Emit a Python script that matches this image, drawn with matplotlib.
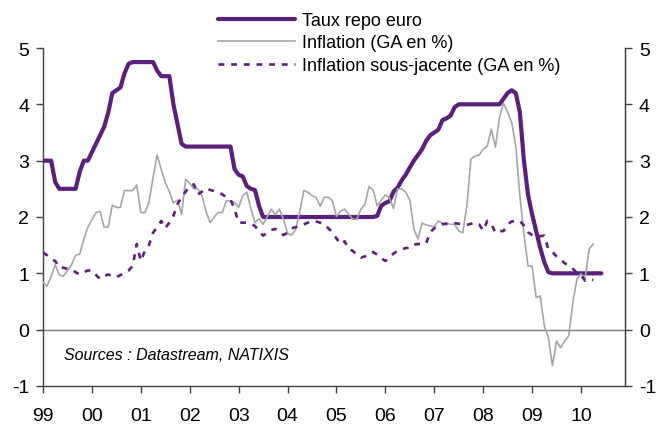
import matplotlib
matplotlib.use("Agg")
import matplotlib.pyplot as plt
import numpy as np

plt.rcParams['font.family'] = ['Liberation Sans', 'DejaVu Sans']

# Monthly data starting January 1999
repo = [3.0, 3.0, 3.0, 2.62, 2.5, 2.5, 2.5, 2.5, 2.5, 2.8, 3.0, 3.0,
        3.15, 3.3, 3.45, 3.6, 3.85, 4.2, 4.25, 4.3, 4.55, 4.72, 4.75, 4.75,
        4.75, 4.75, 4.75, 4.75, 4.6, 4.5, 4.5, 4.5, 4.0, 3.65, 3.3, 3.25,
        3.25, 3.25, 3.25, 3.25, 3.25, 3.25, 3.25, 3.25, 3.25, 3.25, 3.25, 2.85,
        2.75, 2.72, 2.55, 2.5, 2.48, 2.2, 2.0, 2.0, 2.0, 2.0, 2.0, 2.0,
        2.0, 2.0, 2.0, 2.0, 2.0, 2.0, 2.0, 2.0, 2.0, 2.0, 2.0, 2.0,
        2.0, 2.0, 2.0, 2.0, 2.0, 2.0, 2.0, 2.0, 2.0, 2.0, 2.02, 2.2,
        2.25, 2.28, 2.45, 2.52, 2.65, 2.75, 2.88, 3.0, 3.1, 3.2, 3.35, 3.45,
        3.5, 3.55, 3.72, 3.75, 3.8, 3.95, 4.0, 4.0, 4.0, 4.0, 4.0, 4.0,
        4.0, 4.0, 4.0, 4.0, 4.0, 4.1, 4.2, 4.25, 4.2, 3.86, 3.0, 2.4,
        2.05, 1.75, 1.45, 1.2, 1.02, 1.0, 1.0, 1.0, 1.0, 1.0, 1.0, 1.0,
        1.0, 1.0, 1.0, 1.0, 1.0, 1.0]

inflation = [0.84, 0.77, 0.95, 1.15, 0.97, 0.95, 1.05, 1.15, 1.32, 1.34, 1.6, 1.82,
             1.95, 2.08, 2.1, 1.82, 1.82, 2.21, 2.17, 2.17, 2.47, 2.47, 2.47, 2.57,
             2.08, 2.08, 2.26, 2.7, 3.1, 2.85, 2.61, 2.45, 2.25, 2.3, 2.05, 2.67,
             2.6, 2.5, 2.5, 2.38, 2.1, 1.9, 2.0, 2.08, 2.08, 2.29, 2.28, 2.26,
             2.17, 2.38, 2.44, 2.15, 1.9, 1.97, 1.87, 2.0, 2.14, 2.04, 2.14, 1.96,
             1.71, 1.68, 1.78, 2.1, 2.47, 2.44, 2.38, 2.35, 2.19, 2.35, 2.35, 2.29,
             2.01, 2.1, 2.14, 2.05, 1.96, 1.96, 2.14, 2.23, 2.54, 2.48, 2.2, 2.3,
             2.39, 2.34, 2.15, 2.5, 2.5, 2.44, 2.3, 1.79, 1.61, 1.89, 1.86, 1.84,
             1.83, 1.93, 1.89, 1.89, 1.87, 1.87, 1.75, 1.72, 2.2, 3.03, 3.08, 3.1,
             3.2, 3.26, 3.56, 3.24, 3.77, 4.02, 3.86, 3.68, 3.26, 2.38, 1.7, 1.13,
             1.13, 0.57, 0.6, 0.07, -0.14, -0.64, -0.2, -0.32, -0.2, -0.11, 0.48, 0.9,
             0.99, 0.9, 1.43, 1.52]

core = [1.37, 1.32, 1.25, 1.22, 1.1, 1.1, 1.08, 1.07, 1.02, 0.98, 1.02, 1.05,
        1.05, 0.97, 0.9, 0.95, 0.98, 0.95, 0.93, 0.97, 1.01, 1.05, 1.13, 1.52,
        1.22, 1.4, 1.5, 1.72, 1.82, 1.93, 1.8, 1.9, 2.02, 2.23, 2.35, 2.45,
        2.55, 2.58, 2.4, 2.45, 2.51, 2.48, 2.46, 2.44, 2.4, 2.35, 2.31, 2.14,
        1.9, 1.9, 1.9, 1.88, 1.84, 1.75, 1.67, 1.72, 1.77, 1.79, 1.72, 1.68,
        1.72, 1.8, 1.82, 1.85, 1.87, 1.9, 1.93, 1.92, 1.9, 1.87, 1.8, 1.73,
        1.62, 1.52, 1.57, 1.43, 1.4, 1.33, 1.28, 1.3, 1.33, 1.38, 1.33, 1.27,
        1.22, 1.28, 1.35, 1.4, 1.42, 1.45, 1.45, 1.51, 1.52, 1.52, 1.53, 1.73,
        1.8, 1.84, 1.87, 1.88, 1.89, 1.89, 1.88, 1.87, 1.86, 1.88, 1.9, 1.87,
        1.76, 1.93, 1.88, 1.72, 1.75, 1.75, 1.87, 1.92, 1.93, 1.93, 1.85, 1.73,
        1.68, 1.64, 1.66, 1.67, 1.43, 1.38, 1.3, 1.25, 1.18, 1.13, 1.08, 1.01,
        0.97, 0.87, 0.9, 0.88]

year_ticks = list(range(1999, 2011))
year_labels = ['99', '00', '01', '02', '03', '04', '05', '06', '07', '08', '09', '10']
labels = ['Taux repo euro', 'Inflation (GA en %)', 'Inflation sous-jacente (GA en %)']
source = 'Sources : Datastream, NATIXIS'

purple = '#5B1F7C'
grey = '#A6A6A6'
axcol = '#404040'

x_repo = 1999 + np.arange(len(repo)) / 12.0
x_inf = 1999 + np.arange(len(inflation)) / 12.0
x_core = 1999 + np.arange(len(core)) / 12.0

fig = plt.figure(figsize=(6.58, 4.27), dpi=100)
ax = fig.add_axes([43/658, 1-387/427, (625-43)/658, (387-49)/427])

ax.axhline(0, color='#7F7F7F', lw=1.0, zorder=1)
l1, = ax.plot(x_repo, repo, color=purple, lw=3.0, solid_capstyle='round', zorder=3)
l2, = ax.plot(x_inf, inflation, color=grey, lw=1.2, zorder=4)
l3, = ax.plot(x_core, core, color=purple, lw=1.9, linestyle=(0, (2.2, 2.6)),
              dash_capstyle='butt', zorder=5)

ax.set_xlim(1999, 2010.9)
ax.set_ylim(-1, 5)
ax.set_yticks(range(-1, 6))
ax.set_yticklabels([str(v) for v in range(-1, 6)])
ax.set_xticks(year_ticks)
ax.set_xticklabels(year_labels)

ax.spines['top'].set_visible(False)
for s in ['left', 'bottom', 'right']:
    ax.spines[s].set_color(axcol)
    ax.spines[s].set_linewidth(1.0)

ax.tick_params(axis='both', direction='out', length=5, width=1.0, color=axcol,
               labelsize=14, pad=5, labelcolor='black')
ax.tick_params(axis='x', pad=10)

ax2 = ax.twinx()
ax2.set_ylim(-1, 5)
ax2.set_yticks(range(-1, 6))
ax2.set_yticklabels([str(v) for v in range(-1, 6)])
ax2.spines['top'].set_visible(False)
ax2.spines['left'].set_visible(False)
ax2.spines['bottom'].set_visible(False)
ax2.spines['right'].set_color(axcol)
ax2.tick_params(axis='y', direction='out', length=5, width=1.0, color=axcol,
                labelsize=14, pad=5)

ax.text(64/658, 1-356/427, source, transform=fig.transFigure, fontsize=11.5,
        style='italic', va='center', ha='left')

fig.legend([l1, l2, l3], labels, loc='upper left',
           bbox_to_anchor=(218/658, 1-13/427), bbox_transform=fig.transFigure,
           frameon=False, fontsize=13, handlelength=4.25, handletextpad=0.4,
           labelspacing=0.3, borderpad=0, borderaxespad=0)

fig.savefig('out.png', dpi=100)
